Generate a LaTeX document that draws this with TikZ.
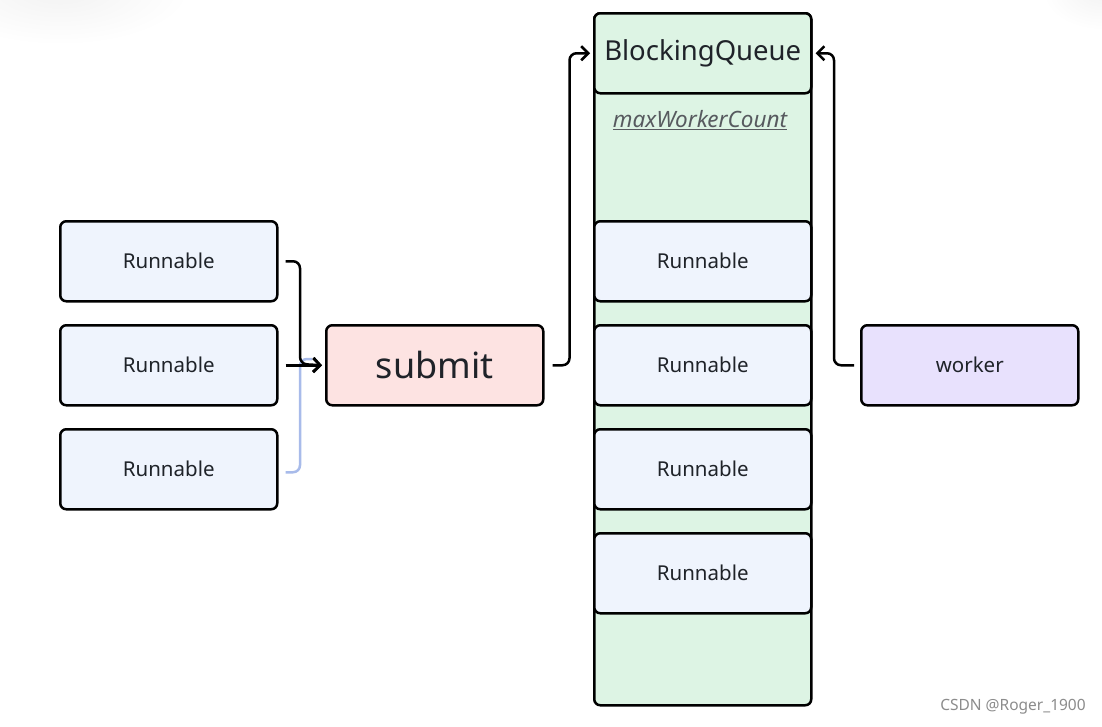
\documentclass[tikz,border=0pt]{standalone}
\usepackage{fontspec}
\setmainfont{Noto Sans}
\usetikzlibrary{arrows.meta}
\definecolor{runfill}{HTML}{EFF4FD}
\definecolor{subfill}{HTML}{FDE3E2}
\definecolor{qfill}{HTML}{DDF4E4}
\definecolor{wfill}{HTML}{E8E1FD}
\definecolor{txt}{HTML}{1F2329}
\definecolor{bluelink}{HTML}{A8BBEA}
\tikzset{
  box/.style={draw=black, line width=2.5pt, rounded corners=6pt, minimum width=217pt, minimum height=80pt, inner sep=0pt, text=txt, font=\fontsize{20.5}{24}\selectfont},
  runbox/.style={box, fill=runfill},
  link/.style={line width=2.5pt, rounded corners=7pt, -{Straight Barb[length=7pt,width=14pt,line width=2.5pt]}},
}
\begin{document}
\begin{tikzpicture}[x=1pt,y=-1pt]
\useasboundingbox (0,0) rectangle (1102,726);
\fill[white] (0,0) rectangle (1102,726);
\shade[inner color=black!5, outer color=white] (60,-10) ellipse (130pt and 55pt);
\shade[inner color=black!5, outer color=white] (1102,-10) ellipse (60pt and 40pt);
% queue container
\node[box, fill=qfill, minimum height=692pt, anchor=north west] (queue) at (593,12) {};
\node[box, fill=qfill, anchor=north west, font=\fontsize{27.5}{32}\selectfont] (bq) at (593,12) {BlockingQueue};
\node[text=txt!75, font=\itshape\fontsize{22.5}{26}\selectfont, inner sep=0pt] (mwc) at (700,120) {\underline{maxWorkerCount}};
% left runnables
\node[runbox, anchor=north west] (r1) at (59,220) {Runnable};
\node[runbox, anchor=north west] (r2) at (59,324) {Runnable};
\node[runbox, anchor=north west] (r3) at (59,428) {Runnable};
% submit
\node[box, fill=subfill, anchor=north west, font=\fontsize{36}{42}\selectfont] (sub) at (325,324) {submit};
% queue runnables
\node[runbox, anchor=north west] (q1) at (593,220) {Runnable};
\node[runbox, anchor=north west] (q2) at (593,324) {Runnable};
\node[runbox, anchor=north west] (q3) at (593,428) {Runnable};
\node[runbox, anchor=north west] (q4) at (593,532) {Runnable};
% worker
\node[box, fill=wfill, anchor=north west] (wk) at (860,324) {worker};
% connectors
\coordinate (j) at (300,364);
\draw[bluelink, line width=2.5pt, rounded corners=7pt] ([xshift=7pt,yshift=-3pt]r3.east) -| ([yshift=5pt]j) -- ++(12,0);
\draw[link] ([xshift=7pt]r1.east) -| (j) -- ([xshift=-3pt]sub.west);
\draw[link] ([xshift=7pt]r2.east) -- ([xshift=-3pt]sub.west);
\draw[link] ([xshift=8pt]sub.east) -- ++(17,0) |- ([xshift=-3pt]bq.west);
\draw[link] ([xshift=-6pt]wk.west) -- ++(-20,0) |- ([xshift=3pt]bq.east);
% watermark
\node[text=black!45, font=\fontsize{15.5}{18}\selectfont, inner sep=0pt] (wm) at (1013,707) {CSDN @Roger\_1900};
\end{tikzpicture}
\end{document}
